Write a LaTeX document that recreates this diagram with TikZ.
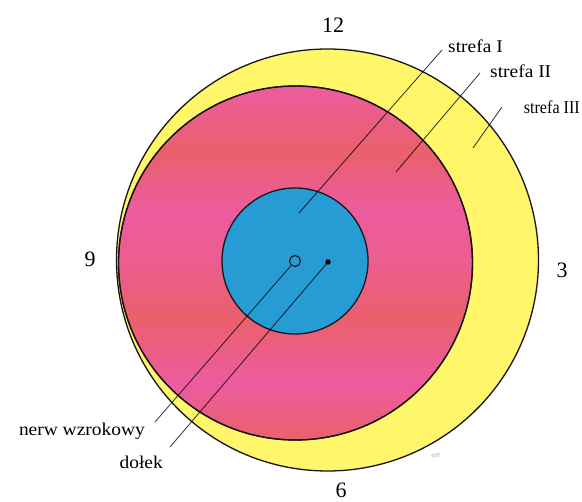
\documentclass[tikz,border=0pt]{standalone}
\usepackage{fontspec}
\setmainfont{Liberation Serif}
\definecolor{yel}{RGB}{255,246,105}
\definecolor{pkA}{RGB}{236,92,158}
\definecolor{pkB}{RGB}{235,96,108}
\definecolor{blu}{RGB}{38,155,212}
\definecolor{ink}{RGB}{25,20,25}
\pgfdeclareverticalshading{pinkband}{100bp}{color(0bp)=(pkB); color(25bp)=(pkB); color(33bp)=(pkA); color(42bp)=(pkB); color(50bp)=(pkA!70!pkB); color(57bp)=(pkA); color(66bp)=(pkB); color(75bp)=(pkA); color(100bp)=(pkA)}
\tikzset{
  zone/.style={draw=ink, line width=1.3pt},
  lead/.style={draw=black, line width=0.8pt, opacity=0.8},
  lbl/.style={font=\fontsize{18}{20}\selectfont, text=black, inner sep=0pt, xscale=1.08},
  num/.style={font=\fontsize{22}{24}\selectfont, text=black, inner sep=0pt}
}
\begin{document}
\begin{tikzpicture}[x=1pt,y=-1pt]
\useasboundingbox (0,0) rectangle (582,502);
\fill[white] (0,0) rectangle (582,502);
% zones
\path[zone, fill=yel] (327.5,260) circle [radius=211];
\path[zone, shading=pinkband] (295.5,263) circle [radius=177];
\draw[zone] (295.5,263) circle [radius=177];
\path[zone, fill=blu] (295,261) circle [radius=73];
% coordinates
\coordinate (s1in) at (299,213);
\coordinate (s1out) at (442,50);
\coordinate (s2in) at (396,172);
\coordinate (s2out) at (480,73);
\coordinate (s3in) at (473,148);
\coordinate (s3out) at (502,107);
\coordinate (nerwend) at (155,422);
\coordinate (dolend) at (170,447);
% optic disc and fovea
\node[circle, draw=ink, line width=1.1pt, fill=blu, minimum size=11pt, inner sep=0pt] (nc) at (295,261) {};
\node[circle, fill=black, minimum size=5.5pt, inner sep=0pt] (dot) at (328,262) {};
% leaders
\draw[lead] (s1in) -- (s1out);
\draw[lead] (s2in) -- (s2out);
\draw[lead] (s3in) -- (s3out);
\draw[lead] (nc) -- (nerwend);
\draw[lead] (dot) -- (dolend);
% labels
\node[lbl, anchor=west] (l1) at (448,46) {strefa I};
\node[lbl, anchor=west] (l2) at (490,71) {strefa II};
\node[lbl, anchor=east, font=\fontsize{18}{20}\selectfont, xscale=0.83] (l3) at (580,107) {strefa III};
\node[lbl, anchor=east] (l4) at (145,431) {nerw wzrokowy};
\node[lbl, anchor=east] (l5) at (163,462) {dołek};
% clock numbers
\node[num] (n12) at (333,25) {12};
\node[num] (n9) at (90,259) {9};
\node[num] (n3) at (562,270) {3};
\node[num] (n6) at (341,490) {6};
% signature
\node[font=\fontsize{5}{6}\selectfont, text=black!50, rotate=15, inner sep=0pt] (sig) at (436,456) {TST};
\end{tikzpicture}
\end{document}
